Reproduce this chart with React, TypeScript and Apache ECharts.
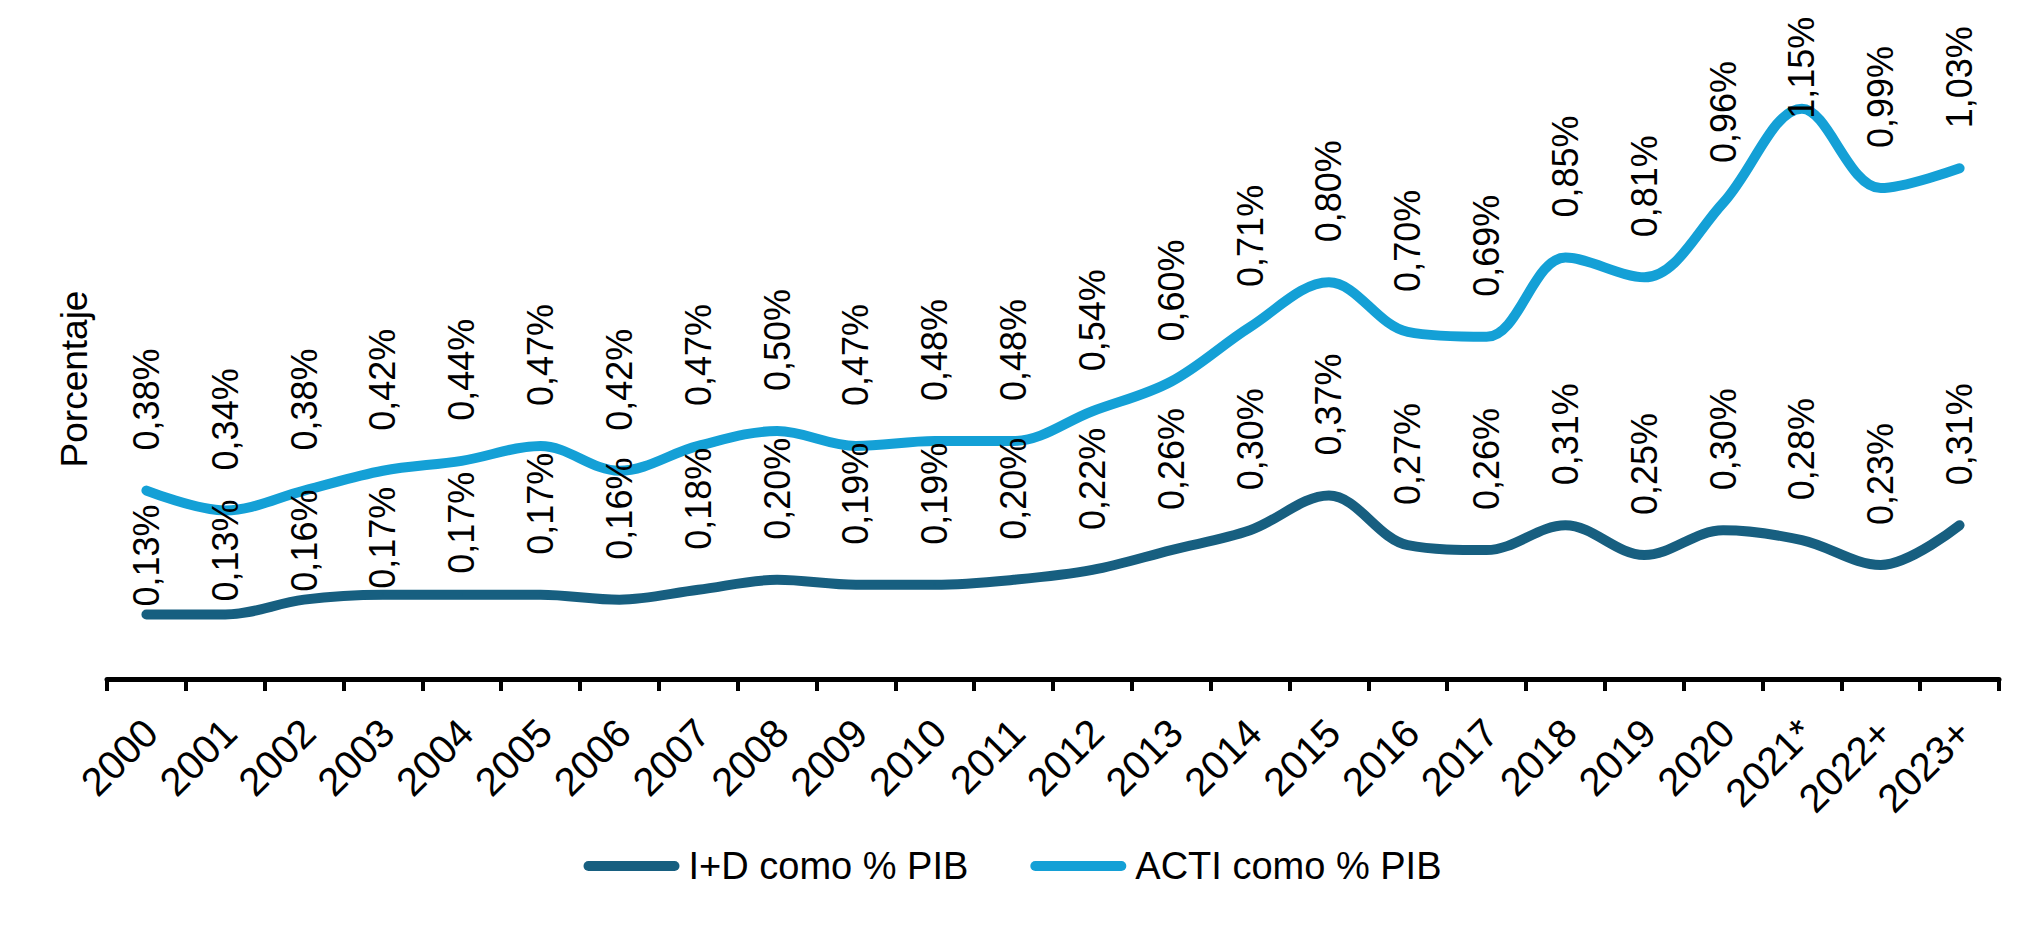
import React, { useEffect, useRef } from "react";
import * as echarts from "echarts";

const years = [
  "2000", "2001", "2002", "2003", "2004", "2005", "2006", "2007", "2008", "2009",
  "2010", "2011", "2012", "2013", "2014", "2015", "2016", "2017", "2018", "2019",
  "2020", "2021*", "2022+", "2023+",
];

const idValues = [
  0.13, 0.13, 0.16, 0.17, 0.17, 0.17, 0.16, 0.18, 0.2, 0.19,
  0.19, 0.2, 0.22, 0.26, 0.3, 0.37, 0.27, 0.26, 0.31, 0.25,
  0.3, 0.28, 0.23, 0.31,
];

const actiValues = [
  0.38, 0.34, 0.38, 0.42, 0.44, 0.47, 0.42, 0.47, 0.5, 0.47,
  0.48, 0.48, 0.54, 0.6, 0.71, 0.8, 0.7, 0.69, 0.85, 0.81,
  0.96, 1.15, 0.99, 1.03,
];

const seriesNames = ["I+D como % PIB", "ACTI como % PIB"];
const yAxisName = "Porcentaje";

const FONT = "'Liberation Sans', Arial, Helvetica, sans-serif";
const COLOR_ID = "#175f80";
const COLOR_ACTI = "#14a0d6";

// label placement tweaks (per index), mirroring the reference layout
const idLabelDistance: Record<number, number> = { 0: 7, 1: 12, 2: 7, 3: 5, 4: 20 };
const actiLabelDistance: Record<number, number> = { 21: -11 };

const fmt = (v: number) => v.toFixed(2).replace(".", ",") + "%";

function buildData(values: number[], overrides: Record<number, number>) {
  return values.map((v, i) =>
    overrides[i] !== undefined ? { value: v, label: { distance: overrides[i] } } : { value: v }
  );
}

const baseLabel = {
  show: true,
  position: "top",
  rotate: 90,
  align: "left",
  verticalAlign: "middle",
  distance: 39,
  fontFamily: FONT,
  fontSize: 36,
  color: "#000",
  formatter: (p: any) => fmt(Number(p.value)),
};

export default function App() {
  const ref = useRef<HTMLDivElement>(null);

  useEffect(() => {
    if (!ref.current) return;
    const chart = echarts.init(ref.current, undefined, { renderer: "svg" });
    chart.setOption({
      animation: false,
      backgroundColor: "#ffffff",
      grid: { left: 107, right: 26, top: 79, bottom: 266, containLabel: false },
      legend: {
        data: seriesNames,
        left: "center",
        top: 842,
        itemWidth: 96,
        itemHeight: 10,
        itemGap: 62,
        icon: "path://M5,0 L91,0 A5,5 0 0 1 91,10 L5,10 A5,5 0 0 1 5,0 Z",
        textStyle: { fontFamily: FONT, fontSize: 38, color: "#000", padding: [0, 0, 0, 4] },
      },
      xAxis: {
        type: "category",
        data: years,
        boundaryGap: true,
        axisLine: { show: true, lineStyle: { color: "#000", width: 5 } },
        axisTick: { show: true, length: 12, lineStyle: { color: "#000", width: 4 } },
        axisLabel: {
          rotate: 45,
          margin: 51,
          interval: 0,
          fontFamily: FONT,
          fontSize: 40,
          color: "#000",
          padding: [0, -6, 0, 0],
        },
        splitLine: { show: false },
      },
      yAxis: {
        type: "value",
        min: 0,
        max: 1.21,
        name: yAxisName,
        nameLocation: "middle",
        nameRotate: 90,
        nameGap: 14,
        nameTextStyle: { fontFamily: FONT, fontSize: 37, color: "#000" },
        axisLine: { show: false },
        axisTick: { show: false },
        axisLabel: { show: false },
        splitLine: { show: false },
      },
      series: [
        {
          name: seriesNames[0],
          type: "line",
          data: buildData(idValues, idLabelDistance),
          smooth: 0.35,
          symbol: "circle",
          symbolSize: 2,
          showSymbol: true,
          lineStyle: { color: COLOR_ID, width: 10, cap: "round", join: "round" },
          itemStyle: { color: COLOR_ID },
          label: baseLabel,
          labelLayout: { hideOverlap: false },
        },
        {
          name: seriesNames[1],
          type: "line",
          data: buildData(actiValues, actiLabelDistance),
          smooth: 0.35,
          symbol: "circle",
          symbolSize: 2,
          showSymbol: true,
          lineStyle: { color: COLOR_ACTI, width: 10, cap: "round", join: "round" },
          itemStyle: { color: COLOR_ACTI },
          label: baseLabel,
          labelLayout: { hideOverlap: false },
        },
      ],
    });
    return () => chart.dispose();
  }, []);

  return (
    <div
      ref={ref}
      style={{ position: "absolute", left: 0, top: 0, width: 2025, height: 945 }}
    />
  );
}
